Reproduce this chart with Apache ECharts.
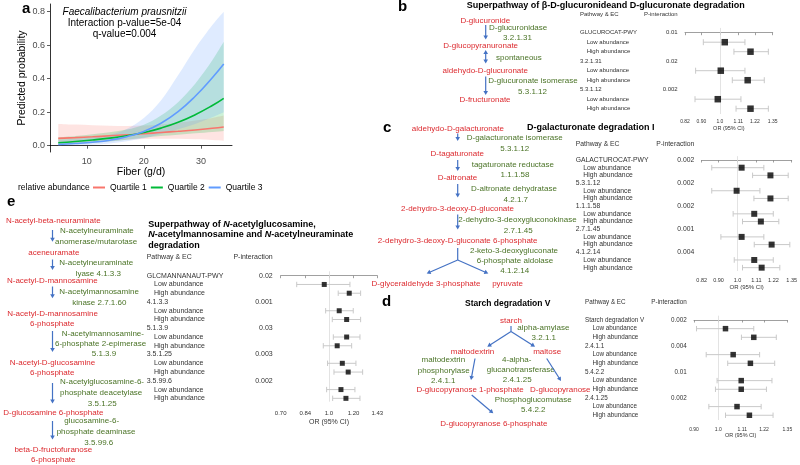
<!DOCTYPE html>
<html><head><meta charset="utf-8">
<script src="https://cdn.jsdelivr.net/npm/echarts@6/dist/echarts.min.js"></script>
<style>html,body{margin:0;padding:0;background:#fff}#c{width:800px;height:465px}</style>
</head><body><div id="c"></div>
<script>
// ---------- Panel a data ----------
const fiber = [5, 8, 11, 14, 17, 20, 23, 26, 29, 32, 34];
const q1Prob = [0.044, 0.048, 0.053, 0.059, 0.065, 0.071, 0.079, 0.086, 0.094, 0.104, 0.112];
const q1Lo   = [0.005, 0.010, 0.018, 0.027, 0.035, 0.040, 0.042, 0.041, 0.038, 0.034, 0.030];
const q1Hi   = [0.130, 0.126, 0.122, 0.119, 0.117, 0.120, 0.127, 0.137, 0.150, 0.166, 0.180];
const q2Prob = [0.018, 0.025, 0.034, 0.045, 0.059, 0.079, 0.105, 0.140, 0.185, 0.240, 0.283];
const q2Lo   = [0.006, 0.010, 0.016, 0.025, 0.036, 0.048, 0.058, 0.066, 0.074, 0.082, 0.088];
const q2Hi   = [0.050, 0.058, 0.068, 0.080, 0.096, 0.125, 0.180, 0.260, 0.370, 0.510, 0.620];
const q3Prob = [0.007, 0.013, 0.021, 0.033, 0.054, 0.085, 0.134, 0.203, 0.295, 0.406, 0.488];
const q3Lo   = [0.001, 0.003, 0.006, 0.013, 0.027, 0.045, 0.070, 0.098, 0.130, 0.170, 0.200];
const q3Hi   = [0.035, 0.042, 0.050, 0.065, 0.100, 0.165, 0.270, 0.420, 0.580, 0.720, 0.800];
const aXTicks = [10, 20, 30];
const aYTicks = [0, 0.2, 0.4, 0.6, 0.8];
const quartileNames = ['Quartile 1', 'Quartile 2', 'Quartile 3'];

// ---------- Panel b forest ----------
const bNames = ['GLUCUROCAT-PWY', '3.2.1.31', '5.3.1.12'];
const bPint = ['0.01', '0.02', '0.002'];
const bLowOR = [1.028, 1.005, 0.988];
const bLowLCL = [0.910, 0.871, 0.868];
const bLowUCL = [1.153, 1.153, 1.127];
const bHighOR = [1.190, 1.171, 1.190];
const bHighLCL = [1.083, 1.073, 1.096];
const bHighUCL = [1.317, 1.287, 1.317];
const bTicks = [0.82, 0.90, 1.0, 1.11, 1.22, 1.35];
const bTickLabels = ['0.82', '0.90', '1.0', '1.11', '1.22', '1.35'];

// ---------- Panel c forest ----------
const cNames = ['GALACTUROCAT-PWY', '5.3.1.12', '1.1.1.58', '2.7.1.45', '4.1.2.14'];
const cPint = ['0.002', '0.002', '0.002', '0.001', '0.004'];
const cLowOR = [1.023, 0.995, 1.097, 1.023, 1.097];
const cLowLCL = [0.867, 0.867, 0.976, 0.912, 0.982];
const cLowUCL = [1.157, 1.132, 1.219, 1.157, 1.219];
const cHighOR = [1.200, 1.200, 1.138, 1.208, 1.143];
const cHighLCL = [1.087, 1.095, 1.028, 1.097, 1.028];
const cHighUCL = [1.324, 1.324, 1.257, 1.336, 1.264];
const cTicks = [0.82, 0.90, 1.0, 1.11, 1.22, 1.35];
const cTickLabels = ['0.82', '0.90', '1.0', '1.11', '1.22', '1.35'];

// ---------- Panel e forest ----------
const eNames = ['GLCMANNANAUT-PWY', '4.1.3.3', '5.1.3.9', '3.5.1.25', '3.5.99.6'];
const ePint = ['0.02', '0.001', '0.03', '0.003', '0.002'];
const eLowOR = [0.966, 1.079, 1.140, 1.104, 1.093];
const eLowLCL = [0.788, 0.976, 1.033, 0.990, 0.983];
const eLowUCL = [1.168, 1.197, 1.258, 1.221, 1.212];
const eHighOR = [1.162, 1.140, 1.063, 1.153, 1.134];
const eHighLCL = [1.071, 1.025, 0.959, 1.038, 1.028];
const eHighUCL = [1.264, 1.264, 1.183, 1.283, 1.258];
const eTicks = [0.70, 0.84, 1.0, 1.20, 1.43];
const eTickLabels = ['0.70', '0.84', '1.0', '1.20', '1.43'];

// ---------- Panel d forest ----------
const dNames = ['Starch degradation V', '2.4.1.1', '5.4.2.2', '2.4.1.25'];
const dPint = ['0.002', '0.004', '0.01', '0.002'];
const dLowOR = [1.032, 1.067, 1.105, 1.085];
const dLowLCL = [0.910, 0.949, 0.995, 0.960];
const dLowUCL = [1.167, 1.197, 1.263, 1.205];
const dHighOR = [1.167, 1.150, 1.105, 1.145];
const dHighLCL = [1.106, 1.042, 0.988, 1.032];
const dHighUCL = [1.287, 1.278, 1.233, 1.269];
const dTicks = [0.90, 1.0, 1.11, 1.22, 1.35];
const dTickLabels = ['0.90', '1.0', '1.11', '1.22', '1.35'];

// ---------- styling ----------
const RED = '#dc2a2f', GRN = '#4a7326', BLU = '#4472c4';
const FONT = 'Liberation Sans, Arial, sans-serif';
const QCOL = ['#F8766D', '#00BA38', '#619CFF'];

const chart = echarts.init(document.getElementById('c'), null, {renderer: 'canvas'});

const forests = [
  {names: bNames, p: bPint, lo: [bLowOR, bLowLCL, bLowUCL], hi: [bHighOR, bHighLCL, bHighUCL], ticks: bTicks, labels: bTickLabels,
   L: {left: 685, width: 87.7, y0: 32.7, step: 9.5, axisY: 114, nameX: 580, indent: 6.7, pRight: 677.7, headerY: 14.3, fs: 6, tickFs: 5, nameFs: 5.5, nameGap: 11, lblMargin: 5, sq: 6.5, cap: 3}},
  {names: cNames, p: cPint, lo: [cLowOR, cLowLCL, cLowUCL], hi: [cHighOR, cHighLCL, cHighUCL], ticks: cTicks, labels: cTickLabels,
   L: {left: 701.7, width: 90, y0: 160, step: 7.69, axisY: 271, nameX: 575.7, indent: 7.6, pRight: 694.3, headerY: 144.3, fs: 6.8, tickFs: 5.5, nameFs: 6, nameGap: 13, lblMargin: 6, sq: 6, cap: 2.8}},
  {names: eNames, p: ePint, lo: [eLowOR, eLowLCL, eLowUCL], hi: [eHighOR, eHighLCL, eHighUCL], ticks: eTicks, labels: eTickLabels,
   L: {left: 280.7, width: 96.6, y0: 275.7, step: 8.76, axisY: 401.7, nameX: 146.7, indent: 7.3, pRight: 272.7, headerY: 257.5, fs: 7, tickFs: 6, nameFs: 7, nameGap: 17, lblMargin: 9, sq: 5, cap: 2.7}},
  {names: dNames, p: dPint, lo: [dLowOR, dLowLCL, dLowUCL], hi: [dHighOR, dHighLCL, dHighUCL], ticks: dTicks, labels: dTickLabels,
   L: {left: 694, width: 93.3, y0: 320, step: 8.66, axisY: 420, nameX: 585, indent: 7.5, pRight: 686.7, headerY: 302.3, fs: 6.3, tickFs: 5, nameFs: 5.5, nameGap: 12, lblMargin: 7, sq: 5.5, cap: 2.7}}
];

const grids = [{left: 50, top: 4, width: 182, height: 148, containLabel: false, outerBoundsMode: 'none'}];
const xAxes = [{
  type: 'value', gridIndex: 0, min: 3.55, max: 35.45,
  name: 'Fiber (g/d)', nameLocation: 'middle', nameGap: 15,
  nameTextStyle: {fontSize: 10.5, color: '#000', fontFamily: FONT},
  axisLine: {lineStyle: {color: '#000', width: 0.8}},
  axisTick: {customValues: aXTicks, length: 3, lineStyle: {color: '#333', width: 0.8}},
  axisLabel: {customValues: aXTicks, fontSize: 9, color: '#4d4d4d', margin: 5, fontFamily: FONT},
  splitLine: {show: false}
}];
const yAxes = [{
  type: 'value', gridIndex: 0, min: -0.0376, max: 0.846,
  name: 'Predicted probability', nameLocation: 'middle', nameGap: 22, nameRotate: 90,
  nameTextStyle: {fontSize: 10.5, color: '#000', fontFamily: FONT},
  axisLine: {show: true, lineStyle: {color: '#000', width: 0.8}},
  axisTick: {show: true, customValues: aYTicks, length: 3, lineStyle: {color: '#333', width: 0.8}},
  axisLabel: {customValues: aYTicks, fontSize: 9, color: '#4d4d4d', margin: 5, fontFamily: FONT,
    formatter: v => v.toFixed(1)},
  splitLine: {show: false}
}];

// smooth path through pixel points (rendering only)
function bez(pts, moveFirst) {
  let d = moveFirst ? 'M' + pts[0][0] + ',' + pts[0][1] : 'L' + pts[0][0] + ',' + pts[0][1];
  for (let i = 0; i < pts.length - 1; i++) {
    const p0 = pts[Math.max(i - 1, 0)], p1 = pts[i], p2 = pts[i + 1], p3 = pts[Math.min(i + 2, pts.length - 1)];
    const c1 = [p1[0] + (p2[0] - p0[0]) / 6, p1[1] + (p2[1] - p0[1]) / 6];
    const c2 = [p2[0] - (p3[0] - p1[0]) / 6, p2[1] - (p3[1] - p1[1]) / 6];
    d += 'C' + c1[0] + ',' + c1[1] + ',' + c2[0] + ',' + c2[1] + ',' + p2[0] + ',' + p2[1];
  }
  return d;
}

const series = [];
const probs = [q1Prob, q2Prob, q3Prob], los = [q1Lo, q2Lo, q3Lo], his = [q1Hi, q2Hi, q3Hi];
for (let k = 0; k < 3; k++) {
  series.push({
    type: 'custom', name: '_band' + k, xAxisIndex: 0, yAxisIndex: 0, silent: true, z: 1,
    data: [[fiber[0], his[k][0]]],
    renderItem: (params, api) => {
      const up = fiber.map((x, i) => api.coord([x, his[k][i]]));
      const dn = fiber.map((x, i) => api.coord([x, los[k][i]])).reverse();
      const d = bez(up, true) + bez(dn, false) + 'Z';
      return {type: 'path', shape: {pathData: d}, style: {fill: QCOL[k], opacity: 0.2}};
    }
  });
}
for (let k = 0; k < 3; k++) {
  series.push({type: 'line', name: quartileNames[k], xAxisIndex: 0, yAxisIndex: 0, smooth: true, symbol: 'none',
    lineStyle: {color: QCOL[k], width: 1.6}, itemStyle: {color: QCOL[k]},
    data: fiber.map((x, i) => [x, probs[k][i]]), z: 3});
}

forests.forEach((f, idx) => {
  const g = idx + 1, L = f.L;
  const top = L.y0 - 0.5 * L.step;
  grids.push({left: L.left, width: L.width, top: top, height: L.axisY - top, containLabel: false, outerBoundsMode: 'none'});
  const lnT = f.ticks.map(Math.log);
  xAxes.push({
    type: 'value', gridIndex: g, min: lnT[0], max: lnT[lnT.length - 1],
    name: 'OR (95% CI)', nameLocation: 'middle', nameGap: L.nameGap,
    nameTextStyle: {fontSize: L.nameFs, color: '#333', fontFamily: FONT},
    axisLine: {lineStyle: {color: '#888', width: 0.8}},
    axisTick: {customValues: lnT, length: 2.5, lineStyle: {color: '#888', width: 0.8}},
    axisLabel: {customValues: lnT, fontSize: L.tickFs, color: '#333', margin: L.lblMargin, fontFamily: FONT,
      formatter: v => { const i = lnT.findIndex(t => Math.abs(t - v) < 1e-6); return i >= 0 ? f.labels[i] : ''; }},
    splitLine: {show: false}
  });
  yAxes.push({type: 'value', gridIndex: g, inverse: true, min: -0.5, max: (L.axisY - L.y0) / L.step, show: false});
  const bars = [], pts = [];
  f.names.forEach((n, j) => {
    bars.push([3 * j + 1, Math.log(f.lo[1][j]), Math.log(f.lo[2][j])]);
    bars.push([3 * j + 2, Math.log(f.hi[1][j]), Math.log(f.hi[2][j])]);
    pts.push([Math.log(f.lo[0][j]), 3 * j + 1]);
    pts.push([Math.log(f.hi[0][j]), 3 * j + 2]);
  });
  series.push({
    type: 'custom', xAxisIndex: g, yAxisIndex: g, silent: true, data: bars, encode: {x: [1, 2], y: 0},
    renderItem: (params, api) => {
      const row = api.value(0), a = api.coord([api.value(1), row]), b = api.coord([api.value(2), row]);
      const st = {stroke: '#c9c9c9', lineWidth: 1};
      return {type: 'group', children: [
        {type: 'line', shape: {x1: a[0], y1: a[1], x2: b[0], y2: b[1]}, style: st},
        {type: 'line', shape: {x1: a[0], y1: a[1] - L.cap, x2: a[0], y2: a[1] + L.cap}, style: st},
        {type: 'line', shape: {x1: b[0], y1: b[1] - L.cap, x2: b[0], y2: b[1] + L.cap}, style: st}
      ]};
    }, z: 2
  });
  series.push({
    type: 'scatter', xAxisIndex: g, yAxisIndex: g, silent: true, data: pts, symbol: 'rect', symbolSize: L.sq,
    itemStyle: {color: '#000'}, z: 3,
    markLine: {silent: true, symbol: 'none', label: {show: false}, lineStyle: {color: '#dcdcdc', width: 0.8, type: 'solid'},
      data: [{xAxis: 0}], z: 1}
  });
});

chart.setOption({
  animation: false,
  backgroundColor: '#fff',
  grid: grids, xAxis: xAxes, yAxis: yAxes, series: series,
  legend: {data: quartileNames, left: 93, top: 183, padding: 0, itemWidth: 12, itemHeight: 2, icon: 'rect', itemGap: 4,
    textStyle: {fontSize: 8.5, color: '#000', fontFamily: FONT}, selectedMode: false}
});

// ---------- graphic (text & diagrams) ----------
function txt(text, x, y, o) {
  o = o || {};
  const st = {text: text, fill: o.fill || '#000', fontSize: o.fs || 8, fontFamily: FONT,
    fontWeight: o.fw || 'normal', fontStyle: o.it ? 'italic' : 'normal', align: o.align || 'left', verticalAlign: 'middle'};
  if (o.rich) st.rich = o.rich;
  return {type: 'text', silent: true, x: x, y: y, z: 20, style: st};
}
function arrow(x1, y1, x2, y2, both) {
  const dx = x2 - x1, dy = y2 - y1, len = Math.hypot(dx, dy), ux = dx / len, uy = dy / len;
  const hl = 4, hw = 2.3;
  const head = (tx, ty, vx, vy) => {
    const bx = tx - vx * hl, by = ty - vy * hl;
    return {type: 'polygon', silent: true, z: 20, shape: {points: [[tx, ty], [bx - vy * hw, by + vx * hw], [bx + vy * hw, by - vx * hw]]}, style: {fill: BLU}};
  };
  const sx = both ? x1 + ux * hl * 0.8 : x1, sy = both ? y1 + uy * hl * 0.8 : y1;
  const out = [{type: 'line', silent: true, z: 20, shape: {x1: sx, y1: sy, x2: x2 - ux * hl * 0.8, y2: y2 - uy * hl * 0.8}, style: {stroke: BLU, lineWidth: 1.2}}];
  out.push(head(x2, y2, ux, uy));
  if (both) out.push(head(x1, y1, -ux, -uy));
  return out;
}
function seg(x1, y1, x2, y2) {
  return {type: 'line', silent: true, z: 20, shape: {x1, y1, x2, y2}, style: {stroke: BLU, lineWidth: 1.2}};
}

const G = [];
const R_ = {fill: RED, align: 'center'}, Gc = {fill: GRN, align: 'center'}, Gl = {fill: GRN};

// panel a texts
G.push(txt('a', 22, 8.5, {fs: 15, fw: 'bold'}));
G.push(txt('Faecalibacterium prausnitzii', 124.5, 12, {fs: 10, it: true, align: 'center'}));
G.push(txt('Interaction p-value=5e-04', 124.5, 23.3, {fs: 10, align: 'center'}));
G.push(txt('q-value=0.004', 124.5, 34.5, {fs: 10, align: 'center'}));
G.push(txt('relative abundance', 18, 188, {fs: 8.5}));

// panel b diagram
G.push(txt('b', 398, 7, {fs: 15, fw: 'bold'}));
G.push(txt('Superpathway of β-D-glucuronideand D-glucuronate degradation', 466.7, 5.5, {fs: 9, fw: 'bold'}));
[['D-glucuronide', 485.3, 20.7, R_], ['D-glucuronidase', 489, 28, Gl], ['3.2.1.31', 517.5, 37.7, Gc],
 ['D-glucopyranuronate', 480.7, 45.3, R_], ['spontaneous', 496, 57.3, Gl], ['aldehydo-D-glucuronate', 485.3, 70.7, R_],
 ['D-glucuronate isomerase', 488.3, 81, Gl], ['5.3.1.12', 532.5, 91.7, Gc], ['D-fructuronate', 485, 100, R_]
].forEach(t => G.push(txt(t[0], t[1], t[2], t[3])));
G.push(...arrow(485.7, 25, 485.7, 39.5));
G.push(...arrow(485.7, 50, 485.7, 63.5, true));
G.push(...arrow(485.7, 76.5, 485.7, 95));

// panel c diagram
G.push(txt('c', 383, 127.5, {fs: 15, fw: 'bold'}));
G.push(txt('D-galacturonate degradation I', 527, 128, {fs: 9, fw: 'bold'}));
[['aldehydo-D-galacturonate', 457.8, 129, R_], ['D-galacturonate isomerase', 466.7, 138, Gl], ['5.3.1.12', 514.7, 149, Gc],
 ['D-tagaturonate', 457.2, 154, R_], ['tagaturonate reductase', 471.7, 164.3, Gl], ['1.1.1.58', 515, 175, Gc],
 ['D-altronate', 457.5, 177.3, R_], ['D-altronate dehydratase', 471, 188.3, Gl], ['4.2.1.7', 515.8, 199.3, Gc],
 ['2-dehydro-3-deoxy-D-gluconate', 457.5, 208.3, R_], ['2-dehydro-3-deoxygluconokinase', 458.3, 220, Gl], ['2.7.1.45', 518.3, 231, Gc],
 ['2-dehydro-3-deoxy-D-gluconate 6-phosphate', 457.7, 241, R_], ['2-keto-3-deoxygluconate', 470, 250.7, Gl],
 ['6-phosphate aldolase', 515, 260.7, Gc], ['4.1.2.14', 514.7, 271, Gc],
 ['D-glyceraldehyde 3-phosphate', 426, 284, R_], ['pyruvate', 507.5, 284, R_]
].forEach(t => G.push(txt(t[0], t[1], t[2], t[3])));
G.push(...arrow(457.7, 133.5, 457.7, 141));
G.push(...arrow(457.7, 160, 457.7, 171));
G.push(...arrow(457.7, 184, 457.7, 197.5));
G.push(...arrow(457.7, 214.5, 457.7, 229.5));
G.push(seg(457.7, 248, 457.7, 260));
G.push(...arrow(457.7, 260, 426.7, 273.5));
G.push(...arrow(457.7, 260, 488.3, 273.5));

// panel e diagram
G.push(txt('e', 7, 202, {fs: 15, fw: 'bold'}));
const eRich = {b: {fontSize: 9, fontWeight: 'bold', fontFamily: FONT, fill: '#000'},
               i: {fontSize: 9, fontWeight: 'bold', fontStyle: 'italic', fontFamily: FONT, fill: '#000'}};
G.push(txt('{b|Superpathway of }{i|N}{b|-acetylglucosamine,}', 148.3, 224.5, {rich: eRich}));
G.push(txt('{i|N}{b|-acetylmannosamine and }{i|N}{b|-acetylneuraminate}', 148.3, 235, {rich: eRich}));
G.push(txt('{b|degradation}', 148.3, 245.5, {rich: eRich}));
[['N-acetyl-beta-neuraminate', 53.3, 221, R_], ['N-acetylneuraminate', 60, 231, Gl], ['anomerase/mutarotase', 55, 241.7, Gl],
 ['aceneuramate', 53.8, 252.3, R_], ['N-acetylneuraminate', 59.3, 262.3, Gl], ['lyase 4.1.3.3', 98.3, 273.3, Gc],
 ['N-acetyl-D-mannosamine', 52.3, 280.5, R_], ['N-acetylmannosamine', 59.3, 291.7, Gl], ['kinase 2.7.1.60', 99.3, 302.3, Gc],
 ['N-acetyl-D-mannosamine', 52.5, 313.3, R_], ['6-phosphate', 52.2, 323.3, R_], ['N-acetylmannosamine-', 61.7, 334, Gl],
 ['6-phosphate 2-epimerase', 55, 344, Gl], ['5.1.3.9', 104, 353.3, Gc], ['N-acetyl-D-glucosamine', 52.5, 362.3, R_],
 ['6-phosphate', 52.2, 372.3, R_], ['N-acetylglucosamine-6-', 60, 381.7, Gl], ['phosphate deacetylase', 60, 392.3, Gl],
 ['3.5.1.25', 102.3, 403.3, Gc], ['D-glucosamine 6-phosphate', 53.3, 412.7, R_], ['glucosamine-6-', 91.7, 420.7, Gc],
 ['phosphate deaminase', 96, 431.7, Gc], ['3.5.99.6', 98.8, 442.3, Gc], ['beta-D-fructofuranose', 53.3, 449.3, R_],
 ['6-phosphate', 53.3, 459.3, R_]
].forEach(t => G.push(txt(t[0], t[1], t[2], t[3])));
[[230, 241.7], [259.5, 270], [286.5, 298.3], [331, 352], [383, 403.5], [421, 439.5]].forEach(a => G.push(...arrow(52.5, a[0], 52.5, a[1])));

// panel d diagram
G.push(txt('d', 382, 302, {fs: 15, fw: 'bold'}));
G.push(txt('Starch degradation V', 465, 304, {fs: 8.5, fw: 'bold'}));
[['starch', 511, 320.7, R_], ['alpha-amylase', 517.3, 327.3, Gl], ['3.2.1.1', 543.8, 337.3, Gc],
 ['maltodextrin', 472.5, 351.7, R_], ['maltose', 547.2, 351.7, R_],
 ['maltodextrin', 443.3, 360, Gc], ['phosphorylase', 443.7, 370.7, Gc], ['2.4.1.1', 443.3, 380.7, Gc],
 ['4-alpha-', 516.7, 360, Gc], ['glucanotransferase', 520.7, 370, Gc], ['2.4.1.25', 517.2, 380, Gc],
 ['D-glucopyranose 1-phosphate', 470, 390, R_], ['D-glucopyranose', 560.3, 390, R_],
 ['Phosphoglucomutase', 533.3, 400, Gc], ['5.4.2.2', 533.3, 410, Gc], ['D-glucopyranose 6-phosphate', 493.8, 423.3, R_]
].forEach(t => G.push(txt(t[0], t[1], t[2], t[3])));
G.push(seg(511, 326, 511, 331.5));
G.push(...arrow(511, 331.5, 487.3, 346.7));
G.push(...arrow(511, 331.5, 535, 346.7));
G.push(...arrow(475, 358.5, 471, 380));
G.push(...arrow(546.7, 358.5, 561, 381));
G.push(...arrow(471.7, 395, 493.3, 413.3));

// forest text columns (rows placed through the library's own y scales)
forests.forEach((f, idx) => {
  const g = idx + 1, L = f.L;
  const rowY = r => chart.convertToPixel({xAxisIndex: g, yAxisIndex: g}, [0, r])[1];
  const base = {fs: L.fs, fill: '#333'};
  G.push(txt('Pathway & EC', L.nameX, L.headerY, base));
  G.push(txt('P-interaction', L.pRight, L.headerY, {fs: L.fs, fill: '#333', align: 'right'}));
  f.names.forEach((n, j) => {
    G.push(txt(n, L.nameX, rowY(3 * j), base));
    G.push(txt(f.p[j], L.pRight, rowY(3 * j), {fs: L.fs, fill: '#333', align: 'right'}));
    G.push(txt('Low abundance', L.nameX + L.indent, rowY(3 * j + 1), base));
    G.push(txt('High abundance', L.nameX + L.indent, rowY(3 * j + 2), base));
  });
});

chart.setOption({graphic: {elements: G}});
</script></body></html>
